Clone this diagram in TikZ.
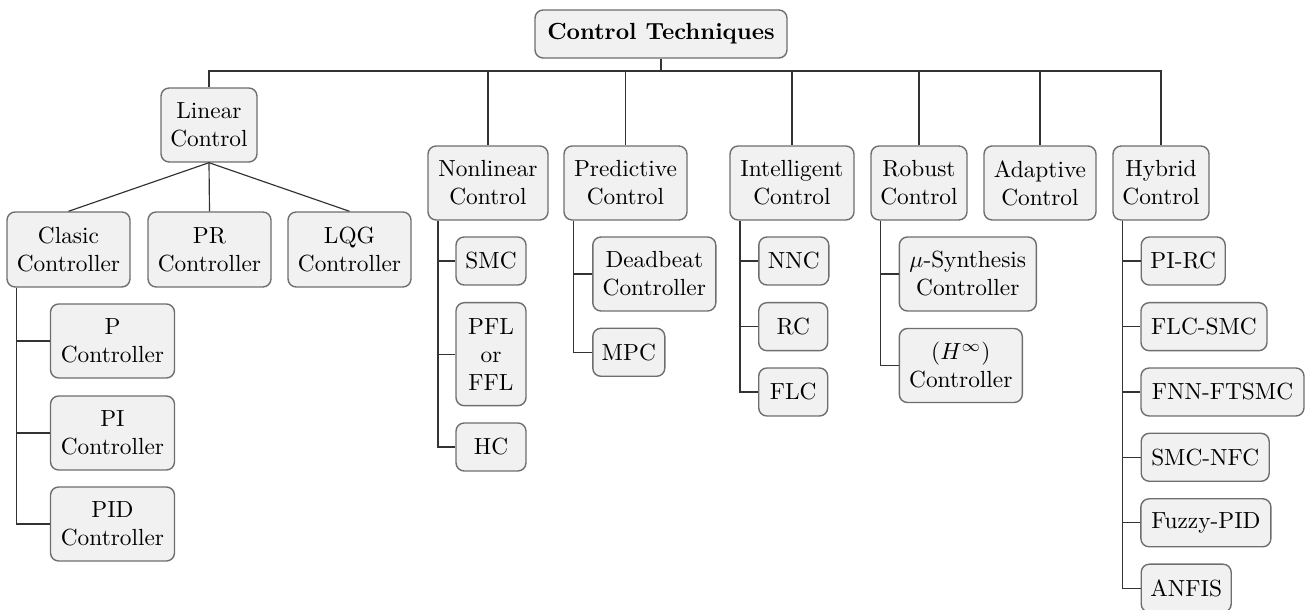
\documentclass[tikz,border=0pt]{standalone}
\usetikzlibrary{calc}
\definecolor{boxfill}{HTML}{F1F1F1}
\definecolor{boxline}{HTML}{6E6E6E}
\definecolor{wire}{HTML}{333333}
\begin{document}
\begin{tikzpicture}[x=0.4286pt,y=-0.4286pt,
  box/.style={draw=boxline, fill=boxfill, line width=0.6pt, rounded corners=3.5pt,
    align=center, inner sep=0pt, font=\normalsize},
  sz/.style 2 args={minimum width=#1*0.4286pt, minimum height=#2*0.4286pt},
  wire/.style={draw=wire, line width=0.5pt}]
\useasboundingbox (0,0) rectangle (1309,610);
% level 0
\node[box, sz={252}{48}, font=\bfseries] (root) at (661,34) {Control Techniques};
% level 1
\node[box, sz={96}{74}]  (lin) at (209,125)   {Linear\\Control};
\node[box, sz={120}{74}] (non) at (488,183)   {Nonlinear\\Control};
\node[box, sz={123}{74}] (pre) at (625.5,183) {Predictive\\Control};
\node[box, sz={124}{74}] (int) at (792,183)   {Intelligent\\Control};
\node[box, sz={96}{74}]  (rob) at (919,183)   {Robust\\Control};
\node[box, sz={112}{74}] (ada) at (1040,183)  {Adaptive\\Control};
\node[box, sz={96}{74}]  (hyb) at (1161,183)  {Hybrid\\Control};
% linear children
\node[box, sz={123}{75}] (cla) at (68.5,249.5)  {Clasic\\Controller};
\node[box, sz={123}{75}] (pr)  at (209.5,249.5) {PR\\Controller};
\node[box, sz={123}{75}] (lqg) at (349.5,249.5) {LQG\\Controller};
\node[box, sz={124}{74}] (p)   at (112.5,341) {P\\Controller};
\node[box, sz={124}{74}] (pi)  at (112.5,433) {PI\\Controller};
\node[box, sz={124}{74}] (pid) at (112.5,524) {PID\\Controller};
% nonlinear children
\node[box, sz={70}{48}]  (smc) at (491,261)   {SMC};
\node[box, sz={70}{103}] (pfl) at (491,354.2) {PFL\\or\\FFL};
\node[box, sz={70}{48}]  (hc)  at (491,447)   {HC};
% predictive children
\node[box, sz={123}{74}] (dead) at (654.3,274)  {Deadbeat\\Controller};
\node[box, sz={72}{48}]  (mpc)  at (628.8,352.3) {MPC};
% intelligent children
\node[box, sz={70}{48}] (nnc) at (793.8,261)   {NNC};
\node[box, sz={69}{48}] (rc)  at (793.2,326.7) {RC};
\node[box, sz={69}{48}] (flc) at (793.2,392)   {FLC};
% robust children
\node[box, sz={137}{74}] (mu)   at (967.8,274)   {$\mu$-Synthesis\\Controller};
\node[box, sz={123}{74}] (hinf) at (960.8,365.5) {$(H^{\infty})$\\Controller};
% hybrid children
\node[box, sz={84}{48}]  (pirc)   at (1183.2,261)   {PI-RC};
\node[box, sz={126}{48}] (flcsmc) at (1204,326.7)   {FLC-SMC};
\node[box, sz={163}{48}] (fnn)    at (1222.5,392)   {FNN-FTSMC};
\node[box, sz={128}{48}] (smcnfc) at (1205.2,457.3) {SMC-NFC};
\node[box, sz={130}{48}] (fuzzy)  at (1205.9,522.8) {Fuzzy-PID};
\node[box, sz={90}{48}]  (anfis)  at (1186.2,588.2) {ANFIS};
% bus from root
\coordinate (bus) at (661,71);
\draw[wire] (root.south) -- (bus);
\foreach \c in {lin,non,pre,int,rob,ada,hyb} \draw[wire] (bus) -| (\c.north);
% linear fan
\foreach \c in {cla,pr,lqg} \draw[wire] (lin.south) -- (\c.north);
% trunks
\coordinate (claT) at ($(cla.south west)+(10,0)$);
\coordinate (nonT) at ($(non.south west)+(10.7,0)$);
\coordinate (preT) at ($(pre.south west)+(10.3,0)$);
\coordinate (intT) at ($(int.south west)+(10.7,0)$);
\coordinate (robT) at ($(rob.south west)+(10,0)$);
\coordinate (hybT) at ($(hyb.south west)+(10.3,0)$);
\foreach \c in {p,pi,pid} \draw[wire] (claT) |- (\c.west);
\foreach \c in {smc,pfl,hc} \draw[wire] (nonT) |- (\c.west);
\foreach \c in {dead,mpc} \draw[wire] (preT) |- (\c.west);
\foreach \c in {nnc,rc,flc} \draw[wire] (intT) |- (\c.west);
\foreach \c in {mu,hinf} \draw[wire] (robT) |- (\c.west);
\foreach \c in {pirc,flcsmc,fnn,smcnfc,fuzzy,anfis} \draw[wire] (hybT) |- (\c.west);
\end{tikzpicture}
\end{document}
